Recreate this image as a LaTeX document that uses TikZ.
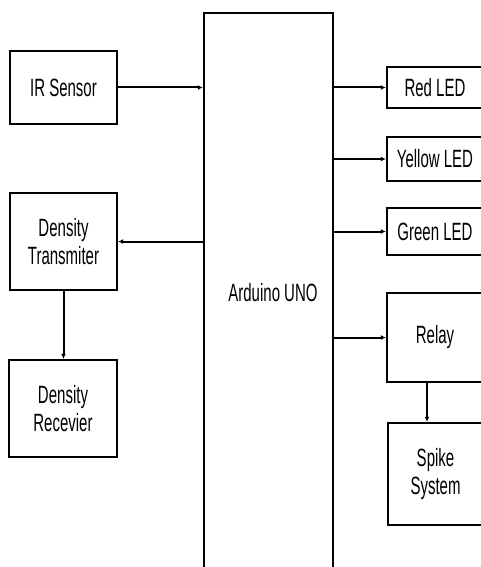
\documentclass[tikz,border=0pt]{standalone}
\usepackage{fontspec}
\setmainfont{Liberation Sans}[FakeStretch=0.6]
\usetikzlibrary{arrows.meta,positioning}

\begin{document}
\begin{tikzpicture}[
  x=1pt, y=-1pt,
  font=\fontsize{25}{28}\selectfont,
  block/.style={draw, line width=2.4pt, align=center, inner sep=0pt},
  arrow/.style={-{Latex[length=5pt,width=5pt]}, line width=2pt}
]
\useasboundingbox[fill=white] (0,0) rectangle (480,567);

\node[block, minimum width=129pt, minimum height=560pt] (uno) at (268.5,293) {\hspace*{9pt}Arduino UNO};

\node[block, minimum width=107pt, minimum height=73pt] (ir) at (63.5,87.5) {IR Sensor};
\node[block, minimum width=107pt, minimum height=97pt] (trans) at (63.5,241.5) {Density\\Transmiter};
\node[block, minimum width=108pt, minimum height=97pt] (recv) at (63,408.5) {Density\\Recevier};

\node[block, minimum width=96pt, minimum height=41pt] (red) at (435,87.5) {Red LED};
\node[block, minimum width=96pt, minimum height=44pt] (yellow) at (435,159) {Yellow LED};
\node[block, minimum width=96pt, minimum height=47pt] (green) at (435,231.5) {Green LED};
\node[block, minimum width=96pt, minimum height=89pt] (relay) at (435,337.5) {Relay};
\node[block, minimum width=95pt, minimum height=102pt] (spike) at (435.5,474) {Spike\\System};

\draw[arrow] (ir.east) -- (ir.east -| uno.west);
\draw[arrow] (uno.west |- trans.east) -- (trans.east);
\draw[arrow] (trans.south) -- (recv.north -| trans.south);

\draw[arrow] (uno.east |- red.west) -- (red.west);
\draw[arrow] (uno.east |- yellow.west) -- (yellow.west);
\draw[arrow] (uno.east |- green.west) -- (green.west);
\draw[arrow] (uno.east |- relay.west) -- (relay.west);
\draw[arrow] ([xshift=-8pt]relay.south) -- ([xshift=-8pt]relay.south |- spike.north);
\end{tikzpicture}
\end{document}
